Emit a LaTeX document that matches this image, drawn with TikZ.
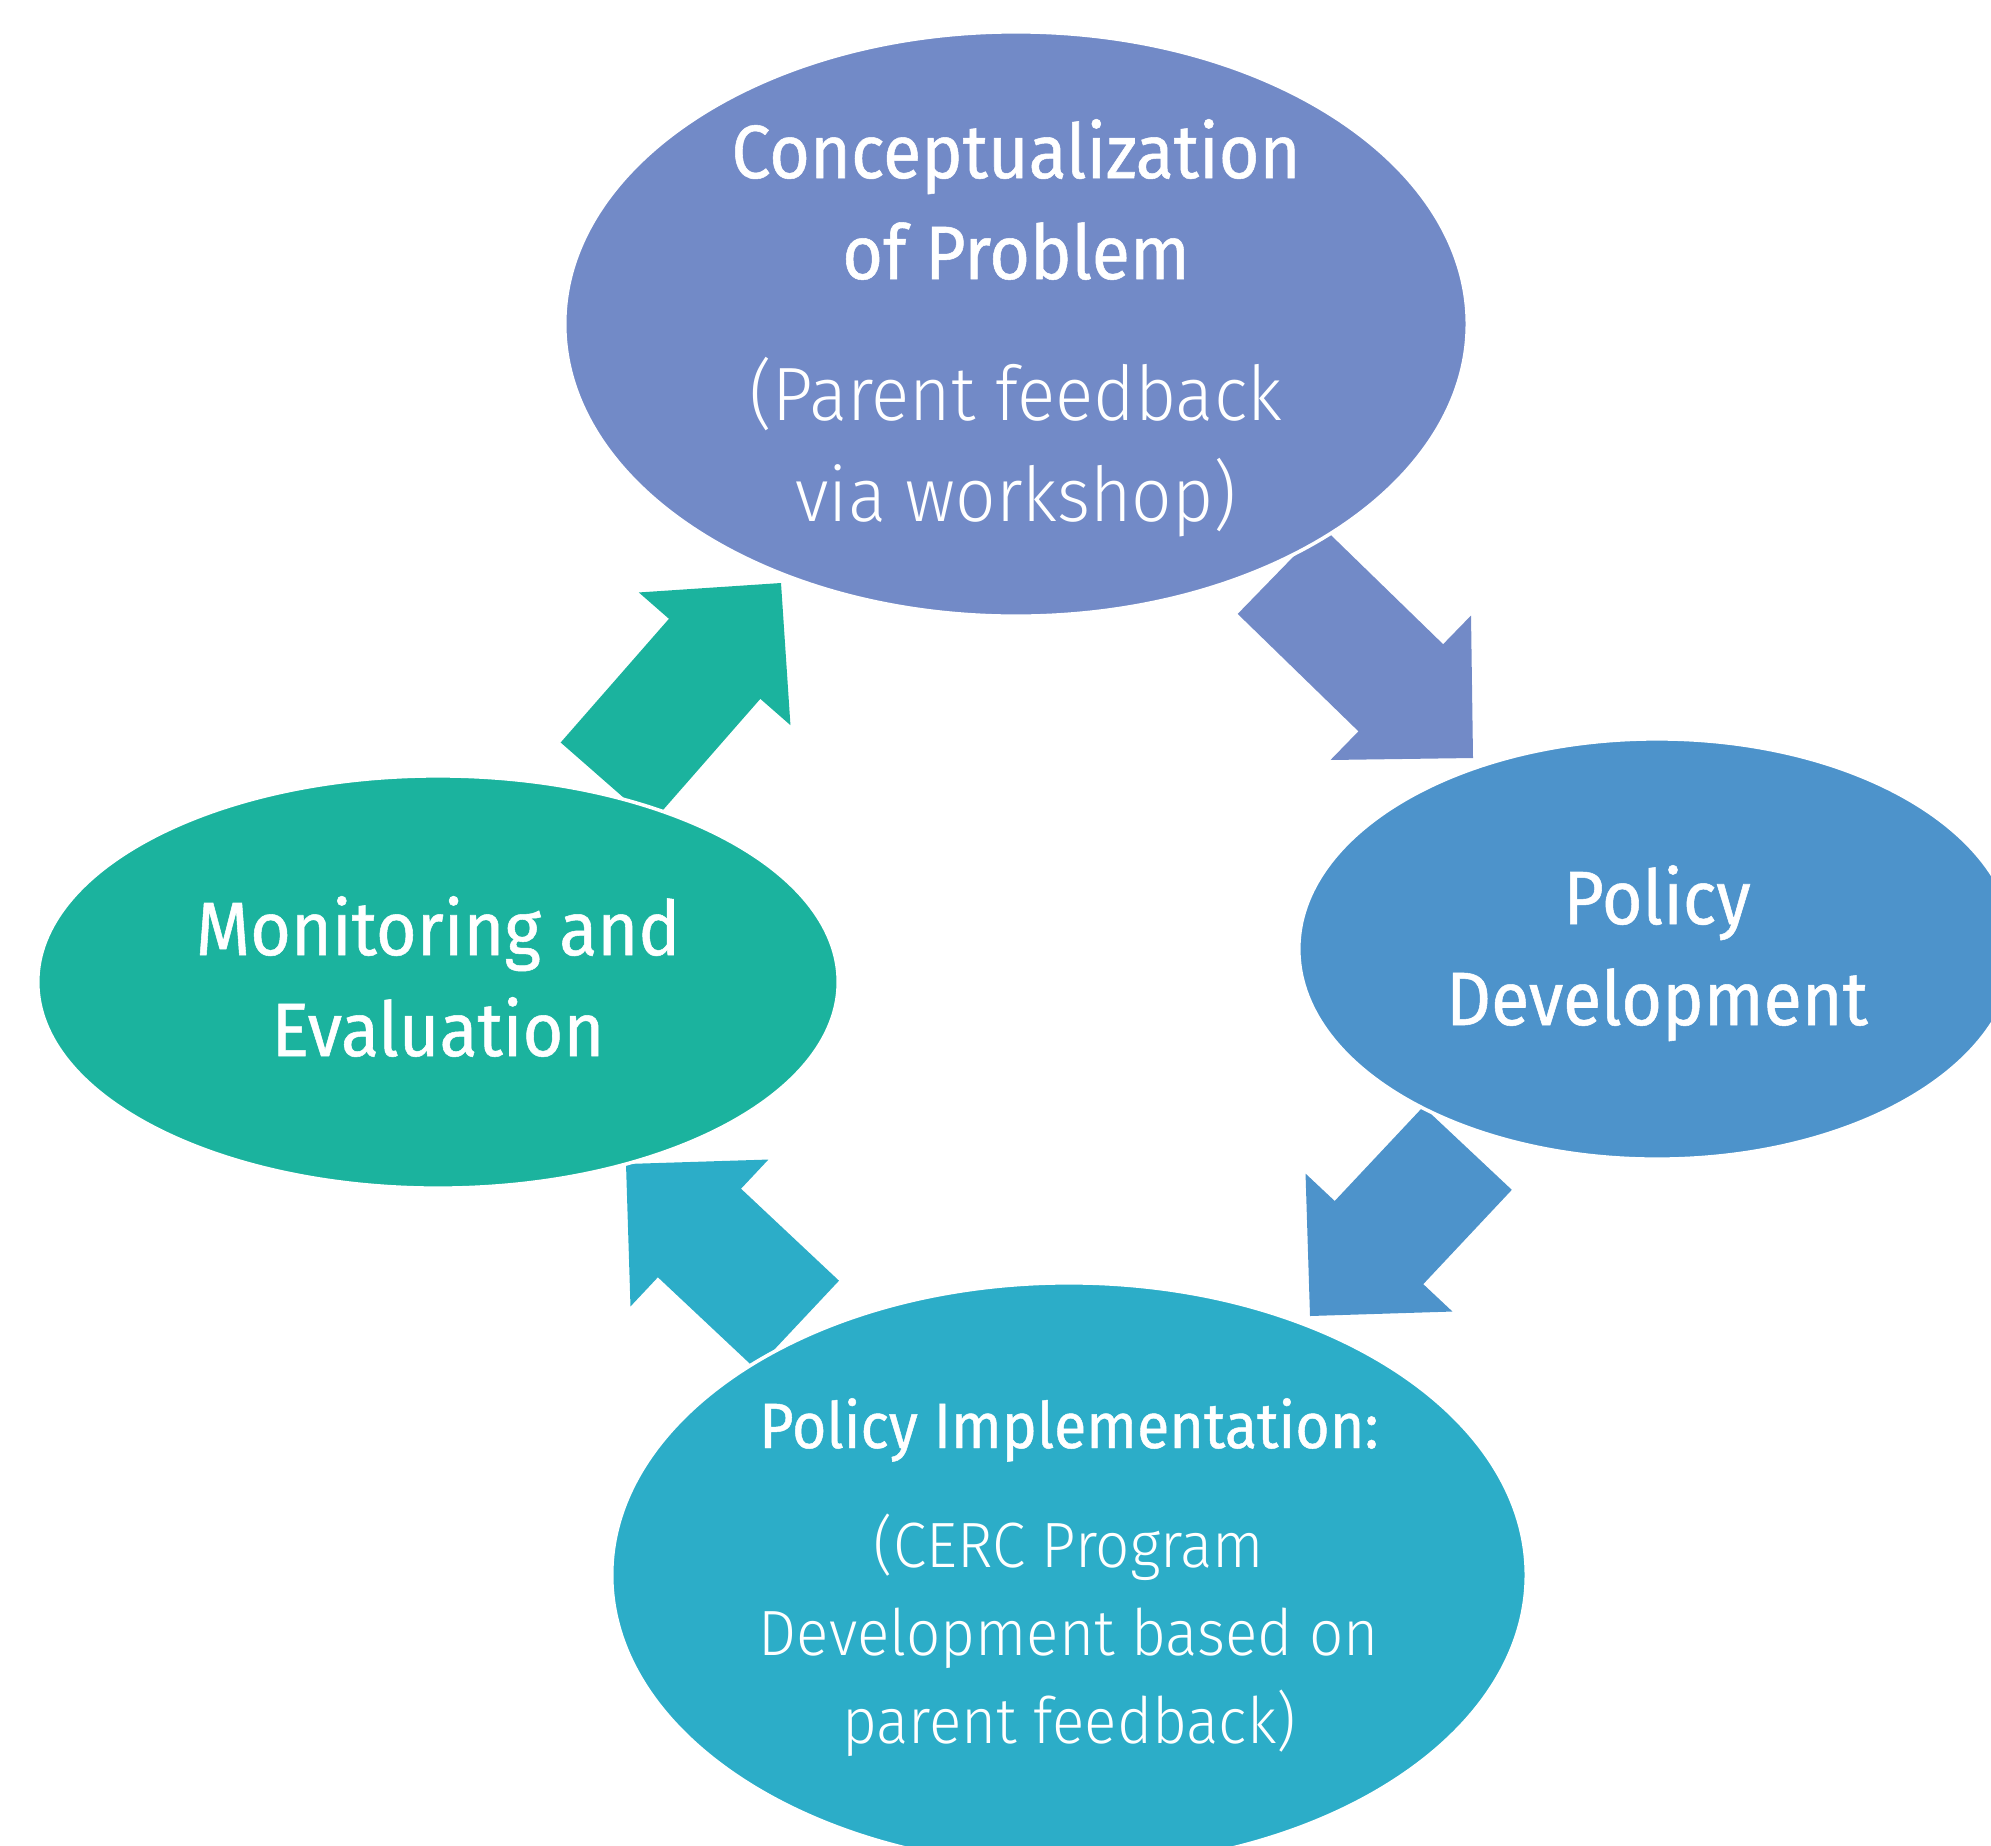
\documentclass[tikz,border=0pt]{standalone}
\usepackage{fontspec}
\setmainfont{Fira Sans}
\newfontfamily\headfont[FakeStretch=0.925,FakeBold=0.7]{Fira Sans}
\newfontfamily\subfont[FakeStretch=0.94]{Fira Sans Light}
\usetikzlibrary{shapes.geometric,shapes.arrows}
\definecolor{conceptcol}{RGB}{114,138,199}
\definecolor{developcol}{RGB}{77,147,203}
\definecolor{implementcol}{RGB}{44,173,200}
\definecolor{monitorcol}{RGB}{27,179,158}
\tikzset{
	bubble/.style={
		ellipse,
		draw=white, line width=1pt,
		inner sep=0pt},
	cyclearrow/.style={
		single arrow,
		single arrow tip angle=90,
		single arrow head extend=0.4cm,
		inner xsep=0pt, inner ysep=0.6cm,
		text height=0pt, text depth=0pt,
		minimum width=0pt, outer sep=0pt,
		draw=none, anchor=tip},
	headtext/.style={
		text=white, align=center, anchor=base,
		font=\headfont\fontsize{21.5}{28.7}\selectfont},
	subtext/.style={
		text=white, align=center, anchor=base,
		font=\subfont\fontsize{21.5}{28.7}\selectfont},
}

\begin{document}
\begin{tikzpicture}[x=0.01cm, y=-0.01cm]
\useasboundingbox (0,0) rectangle (1991,1845);

% arrows first, the ellipses sit on top of their tails
\node[cyclearrow, fill=conceptcol, minimum height=2.69cm, rotate=-44.2] (conceptarrow) at (1473,758) {};
\node[cyclearrow, fill=developcol, minimum height=2.30cm, rotate=-133.2] (developarrow) at (1310,1316) {};
\node[cyclearrow, fill=implementcol, minimum height=2.35cm, rotate=136.8] (implementarrow) at (626,1164) {};
\node[cyclearrow, fill=monitorcol, minimum height=2.65cm, rotate=48.8] (monitorarrow) at (781,583) {};

\node[bubble, fill=conceptcol, minimum width=9.02cm, minimum height=5.84cm] (concept) at (1016,324) {};
\node[bubble, fill=developcol, minimum width=7.16cm, minimum height=4.20cm] (develop) at (1657,949) {};
\node[bubble, fill=implementcol, minimum width=9.14cm, minimum height=5.84cm] (implement) at (1069,1575) {};
\node[bubble, fill=monitorcol, minimum width=8.00cm, minimum height=4.12cm] (monitor) at (438,982) {};

% base of a multi-line node is its last line
\node[headtext] (concepthead) at (1016,279) {Conceptualization\\of Problem};
\node[subtext] (conceptsub) at (1016,521) {(Parent feedback\\via workshop)};
\node[headtext] (developlbl) at (1657,1025) {Policy\\Development};
\node[headtext] (monitorlbl) at (438,1056) {Monitoring and\\Evaluation};
\node[headtext, font=\headfont\fontsize{18.2}{25}\selectfont] (implementhead) at (1069,1448) {Policy Implementation:};
\node[subtext, font=\subfont\fontsize{18.2}{25}\selectfont] (implementsub) at (1069,1743) {(CERC Program\\Development based on\\parent feedback)};
\end{tikzpicture}
\end{document}
